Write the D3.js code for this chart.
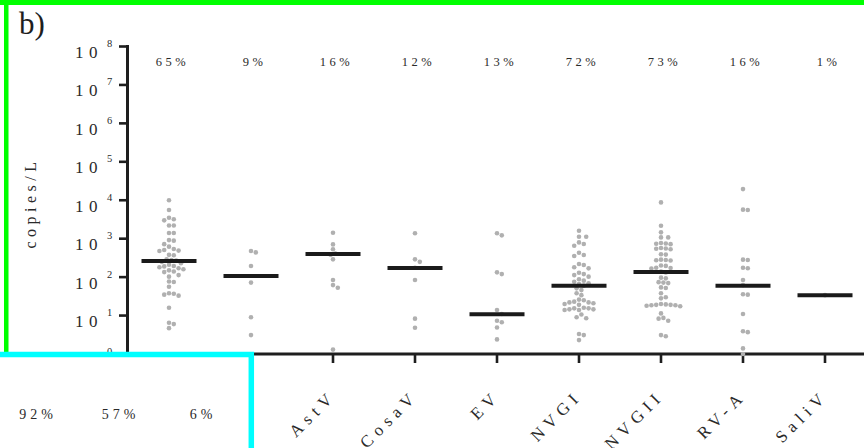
<!DOCTYPE html>
<html>
<head>
<meta charset="utf-8">
<script src="https://cdn.jsdelivr.net/npm/d3@7/dist/d3.min.js"></script>
<style>
  html, body { margin: 0; padding: 0; background: #fff; }
  svg { display: block; }
  text { font-family: "Liberation Serif", "DejaVu Serif", serif; }
</style>
</head>
<body>
<svg id="chart" width="864" height="448"></svg>
<script>
// Virus groups and detection frequency (% positive samples)
const categories = ["AdV", "AiV", "AstV", "CosaV", "EV", "NVGI", "NVGII", "RV-A", "SaliV"];
const positivePct = [65, 9, 16, 12, 13, 72, 73, 16, 1];

// Concentrations of positive samples, copies/L
const adv   = [10000, 5600, 3500, 3200, 3000, 2200, 2200, 1400, 1400, 920, 890, 720, 620, 540, 510, 490, 480,
               380, 370, 290, 280, 270, 250, 230, 210, 195, 190, 180, 170, 160, 150, 140, 135, 113, 103,
               77, 75, 56, 38, 37, 35, 33, 16, 6.5, 6.0, 4.7];
const aiv   = [480, 440, 195, 72, 9, 3.1];
const astv  = [1430, 710, 530, 410, 380, 290, 84, 62, 53, 1.3];
const cosav = [1380, 290, 250, 175, 84, 8.3, 4.8];
const ev    = [1380, 1220, 133, 120, 14, 11, 7.3, 6.7, 4.9, 2.4];
const nvg1  = [1610, 1120, 1120, 800, 725, 656, 431, 376, 355, 219, 206, 180, 169, 130, 120, 113, 103,
               88, 81, 76, 69, 66, 60, 51, 46, 38, 34, 26, 25, 23, 22, 22, 21, 20, 19, 16, 15.4, 15.4,
               14.5, 14.5, 13.9, 13.9, 10.7, 9.0, 8.5, 3.3, 3.1, 2.3];
const nvg2  = [8800, 2170, 1460, 1080, 1080, 770, 750, 740, 720, 570, 555, 545, 530, 395, 385, 285, 280,
               275, 270, 200, 196, 176, 172, 168, 140, 132, 97, 93, 74, 72, 70, 54, 52, 38, 30, 28,
               20, 19.5, 19, 19, 18.5, 18.5, 18, 17.5, 11.4, 8.7, 8.3, 7.3, 3.1, 2.9];
const rva   = [19500, 5700, 5600, 285, 280, 175, 170, 84, 62, 36, 35, 11, 3.9, 3.7, 1.4, 1.0];
const saliv = [34];
const series = [adv, aiv, astv, cosav, ev, nvg1, nvg2, rva, saliv];

// Median concentration per group, copies/L
const medians = [262, 107, 400, 173, 10.8, 60, 136, 60, 34];

// Y axis decades
const yExponents = [0, 1, 2, 3, 4, 5, 6, 7, 8];

// Detection frequencies of the inset group
const insetPct = [92, 57, 6];

const svg = d3.select("#chart");

const y = d3.scaleLog().domain([1, 1e8]).range([354, 46.5]);
const x = d3.scalePoint().domain(categories).range([169, 825]);

const ink = "#1e1e1e";
const textInk = "#2a2a2a";

// Panel letter
svg.append("text")
  .attr("x", 19).attr("y", 34)
  .attr("font-size", 31).attr("fill", ink)
  .text("b)");

// Y axis title
svg.append("text")
  .attr("transform", "translate(36,203) rotate(-90)")
  .attr("text-anchor", "middle")
  .attr("font-size", 16).attr("letter-spacing", "4.5px")
  .attr("fill", textInk)
  .text("copies/L");

// Y axis: line, ticks and power-of-ten labels
const yAxis = svg.append("g");
yAxis.append("line")
  .attr("x1", 127.5).attr("x2", 127.5)
  .attr("y1", y(1e8) - 1.5).attr("y2", y(1) + 1.5)
  .attr("stroke", ink).attr("stroke-width", 3);
yExponents.forEach(e => {
  const yy = y(Math.pow(10, e));
  yAxis.append("line")
    .attr("x1", 119).attr("x2", 127.5)
    .attr("y1", yy).attr("y2", yy)
    .attr("stroke", ink).attr("stroke-width", 2.6);
  yAxis.append("text")
    .attr("x", 75).attr("y", yy + 11.5)
    .attr("font-size", 17).attr("letter-spacing", "5.5px")
    .attr("fill", textInk)
    .text("10");
  yAxis.append("text")
    .attr("x", 107).attr("y", yy + 0.5)
    .attr("font-size", 10.5)
    .attr("fill", textInk)
    .text(e);
});

// X axis: line, ticks and rotated category names
const xAxis = svg.append("g");
xAxis.append("line")
  .attr("x1", 126).attr("x2", 864)
  .attr("y1", y(1)).attr("y2", y(1))
  .attr("stroke", ink).attr("stroke-width", 3);
categories.forEach(c => {
  const xx = x(c);
  xAxis.append("line")
    .attr("x1", xx).attr("x2", xx)
    .attr("y1", y(1)).attr("y2", y(1) + 9)
    .attr("stroke", ink).attr("stroke-width", 2.6);
  xAxis.append("text")
    .attr("transform", `translate(${xx + 4},${y(1) + 43}) rotate(-45)`)
    .attr("text-anchor", "end")
    .attr("font-size", 17).attr("letter-spacing", "5.5px")
    .attr("fill", textInk)
    .text(c);
});

// Detection frequency above each column
svg.append("g").selectAll("text")
  .data(positivePct)
  .join("text")
  .attr("x", (d, i) => x(categories[i]) + 3.5)
  .attr("y", 66)
  .attr("text-anchor", "middle")
  .attr("font-size", 12.5).attr("letter-spacing", "3.5px")
  .attr("fill", textInk)
  .text(d => `${d}%`);

// Beeswarm placement of the points within each column
const r = 2.3;
const minDist = 4.8;
function swarm(values, cx) {
  const pts = values.map(v => ({ v, cy: y(v) })).sort((a, b) => a.cy - b.cy);
  const placed = [];
  const step = minDist / 2;
  pts.forEach(p => {
    for (let k = 0; k < 60; k++) {
      const off = (k % 2 === 1 ? 1 : -1) * Math.ceil(k / 2) * step;
      const px = cx + off;
      const hit = placed.some(q => (q.cx - px) ** 2 + (q.cy - p.cy) ** 2 < minDist * minDist);
      if (!hit) { p.cx = px; break; }
    }
    placed.push(p);
  });
  return placed;
}

const dots = svg.append("g");
series.forEach((vals, i) => {
  const pts = swarm(vals, x(categories[i]));
  dots.selectAll(null)
    .data(pts)
    .join("circle")
    .attr("cx", d => d.cx).attr("cy", d => d.cy)
    .attr("r", r)
    .attr("fill", "#b0b0b0");
});

// Median bars
svg.append("g").selectAll("line")
  .data(medians)
  .join("line")
  .attr("x1", (d, i) => x(categories[i]) - 27.5)
  .attr("x2", (d, i) => x(categories[i]) + 27.5)
  .attr("y1", d => y(d)).attr("y2", d => y(d))
  .attr("stroke", "#1a1a1a").attr("stroke-width", 4);

// Framing: green panel border
svg.append("rect").attr("x", 0).attr("y", 0).attr("width", 864).attr("height", 5).attr("fill", "#00ff00");
svg.append("rect").attr("x", 4).attr("y", 0).attr("width", 4.5).attr("height", 352).attr("fill", "#00ff00");

// Inset box with its detection frequencies
svg.append("rect")
  .attr("x", -10).attr("y", 354.5)
  .attr("width", 261.3).attr("height", 110)
  .attr("fill", "#fff")
  .attr("stroke", "#00ffff").attr("stroke-width", 5.5);
const insetX = d3.scalePoint().domain(insetPct.map((d, i) => i)).range([36, 201]);
svg.append("g").selectAll("text")
  .data(insetPct)
  .join("text")
  .attr("x", (d, i) => insetX(i) + 2)
  .attr("y", 419)
  .attr("text-anchor", "middle")
  .attr("font-size", 14).attr("letter-spacing", "4px")
  .attr("fill", textInk)
  .text(d => `${d}%`);
</script>
</body>
</html>
